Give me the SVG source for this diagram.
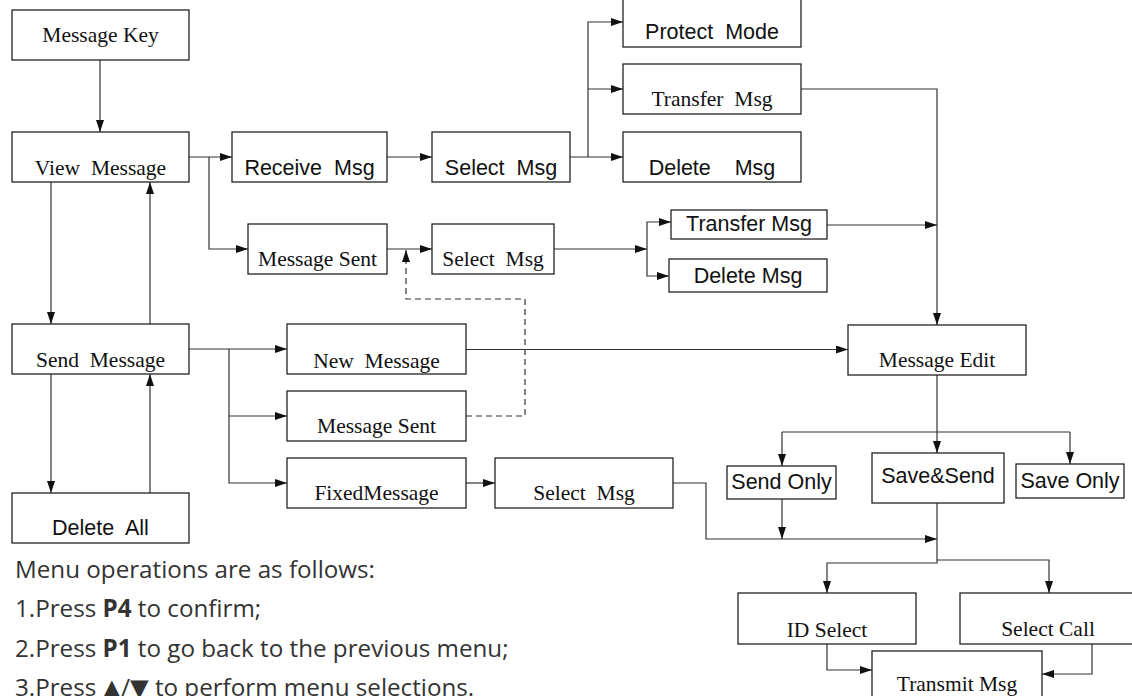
<svg xmlns="http://www.w3.org/2000/svg" width="1132" height="696" viewBox="0 0 1132 696">
<style>
.box{fill:#fff;stroke:#222;stroke-width:1.3}
.serif{font-family:"Liberation Serif","Times New Roman",serif;font-size:21.5px;text-anchor:middle;fill:#111;white-space:pre}
.sans{font-family:"Liberation Sans",Arial,sans-serif;font-size:21.5px;text-anchor:middle;fill:#111;white-space:pre}
.conn{fill:none;stroke:#333;stroke-width:1.2}
.dash{stroke-dasharray:6 4}
.note{font-family:"Open Sans","Noto Sans","DejaVu Sans",sans-serif;font-size:24.2px;fill:#333}
</style>
<defs>
<marker id="ah" markerWidth="12" markerHeight="8" refX="12" refY="4" orient="auto" markerUnits="userSpaceOnUse">
<path d="M0,0 L12,4 L0,8 z" fill="#111"/>
</marker>
</defs>
<rect width="1132" height="696" fill="#fff"/>
<g id="connectors">
<path class="conn" d="M100,60 V132" marker-end="url(#ah)"/>
<path class="conn" d="M51,182 V324" marker-end="url(#ah)"/>
<path class="conn" d="M150,324 V182" marker-end="url(#ah)"/>
<path class="conn" d="M51,374 V493" marker-end="url(#ah)"/>
<path class="conn" d="M150,493 V374" marker-end="url(#ah)"/>
<path class="conn" d="M189,157 H232" marker-end="url(#ah)"/>
<path class="conn" d="M209,157 V249 H248" marker-end="url(#ah)"/>
<path class="conn" d="M387,157 H432" marker-end="url(#ah)"/>
<path class="conn" d="M570,157 H623" marker-end="url(#ah)"/>
<path class="conn" d="M588,157 V22 H623" marker-end="url(#ah)"/>
<path class="conn" d="M588,89 H623" marker-end="url(#ah)"/>
<path class="conn" d="M801,89 H937 V325" marker-end="url(#ah)"/>
<path class="conn" d="M387,249 H432" marker-end="url(#ah)"/>
<path class="conn" d="M554,249 H647" marker-end="url(#ah)"/>
<path class="conn" d="M647,249 V222 H671" marker-end="url(#ah)"/>
<path class="conn" d="M647,249 V276 H669" marker-end="url(#ah)"/>
<path class="conn" d="M827,225 H937" marker-end="url(#ah)"/>
<path class="conn" d="M189,349 H287" marker-end="url(#ah)"/>
<path class="conn" d="M229,349 V483 H287" marker-end="url(#ah)"/>
<path class="conn" d="M229,416 H287" marker-end="url(#ah)"/>
<path class="conn" d="M466,349.5 H848" marker-end="url(#ah)"/>
<path class="conn dash" d="M466,416 H525 V299 H406 V250" marker-end="url(#ah)"/>
<path class="conn" d="M466,483 H495" marker-end="url(#ah)"/>
<path class="conn" d="M673,483 H706 V539 H937" marker-end="url(#ah)"/>
<path class="conn" d="M937,375 V453" marker-end="url(#ah)"/>
<path class="conn" d="M782,432 H1070"/>
<path class="conn" d="M782,432 V466" marker-end="url(#ah)"/>
<path class="conn" d="M1070,432 V464" marker-end="url(#ah)"/>
<path class="conn" d="M782,499 V539" marker-end="url(#ah)"/>
<path class="conn" d="M937,503 V563 H827 V593" marker-end="url(#ah)"/>
<path class="conn" d="M937,560 H1049 V593" marker-end="url(#ah)"/>
<path class="conn" d="M827,644 V670 H872" marker-end="url(#ah)"/>
<path class="conn" d="M1092,644 V674 H1042" marker-end="url(#ah)"/>
</g>
<g id="n-msgkey"><rect class="box" x="12" y="10" width="177" height="50"/><text class="serif" x="100.5" y="42">Message Key</text></g>
<g id="n-view"><rect class="box" x="12" y="132" width="177" height="50"/><text class="serif" x="100.5" y="175">View  Message</text></g>
<g id="n-recv"><rect class="box" x="232" y="132" width="155" height="50"/><text class="sans" x="309.5" y="175">Receive  Msg</text></g>
<g id="n-sel1"><rect class="box" x="432" y="132" width="138" height="50"/><text class="sans" x="501" y="175">Select  Msg</text></g>
<g id="n-protect"><rect class="box" x="623" y="-3" width="178" height="50"/><text class="sans" x="712" y="39">Protect  Mode</text></g>
<g id="n-transfer1"><rect class="box" x="623" y="64" width="178" height="50"/><text class="serif" x="712" y="106">Transfer  Msg</text></g>
<g id="n-delete1"><rect class="box" x="623" y="132" width="178" height="50"/><text class="sans" x="712" y="175">Delete    Msg</text></g>
<g id="n-sent1"><rect class="box" x="248" y="224" width="139" height="50"/><text class="serif" x="317.5" y="266">Message Sent</text></g>
<g id="n-sel2"><rect class="box" x="432" y="224" width="122" height="50"/><text class="serif" x="493" y="266">Select  Msg</text></g>
<g id="n-transfer2"><rect class="box" x="671" y="210" width="156" height="29"/><text class="sans" x="749" y="231">Transfer Msg</text></g>
<g id="n-delete2"><rect class="box" x="669" y="259" width="158" height="33"/><text class="sans" x="748" y="283">Delete Msg</text></g>
<g id="n-edit"><rect class="box" x="848" y="325" width="178" height="50"/><text class="serif" x="937" y="367">Message Edit</text></g>
<g id="n-send"><rect class="box" x="12" y="324" width="177" height="50"/><text class="serif" x="100.5" y="367">Send  Message</text></g>
<g id="n-delall"><rect class="box" x="12" y="493" width="177" height="50"/><text class="sans" x="100.5" y="535">Delete  All</text></g>
<g id="n-new"><rect class="box" x="287" y="324" width="179" height="50"/><text class="serif" x="376.5" y="368">New  Message</text></g>
<g id="n-sent2"><rect class="box" x="287" y="391" width="179" height="50"/><text class="serif" x="376.5" y="433">Message Sent</text></g>
<g id="n-fixed"><rect class="box" x="287" y="458" width="179" height="50"/><text class="serif" x="376.5" y="500">FixedMessage</text></g>
<g id="n-sel3"><rect class="box" x="495" y="458" width="178" height="50"/><text class="serif" x="584" y="500">Select  Msg</text></g>
<g id="n-sendonly"><rect class="box" x="727" y="466" width="109" height="33"/><text class="sans" x="781.5" y="489">Send Only</text></g>
<g id="n-savesend"><rect class="box" x="872" y="453" width="132" height="50"/><text class="sans" x="938" y="483">Save&amp;Send</text></g>
<g id="n-saveonly"><rect class="box" x="1016" y="464" width="108" height="34"/><text class="sans" x="1070" y="488">Save Only</text></g>
<g id="n-idsel"><rect class="box" x="738" y="593" width="178" height="51"/><text class="serif" x="827" y="637">ID Select</text></g>
<g id="n-selcall"><rect class="box" x="960" y="593" width="200" height="51"/><text class="serif" x="1048" y="636">Select Call</text></g>
<g id="n-transmit"><rect class="box" x="872" y="651" width="170" height="60"/><text class="serif" x="957" y="691">Transmit Msg</text></g>
<g id="notes">
<text class="note" x="15" y="578">Menu operations are as follows:</text>
<text class="note" x="15" y="617">1.Press <tspan font-weight="bold">P4</tspan> to confirm;</text>
<text class="note" x="15" y="657">2.Press <tspan font-weight="bold">P1</tspan> to go back to the previous menu;</text>
<text class="note" x="15" y="696">3.Press ▲/▼ to perform menu selections.</text>
</g>
</svg>
